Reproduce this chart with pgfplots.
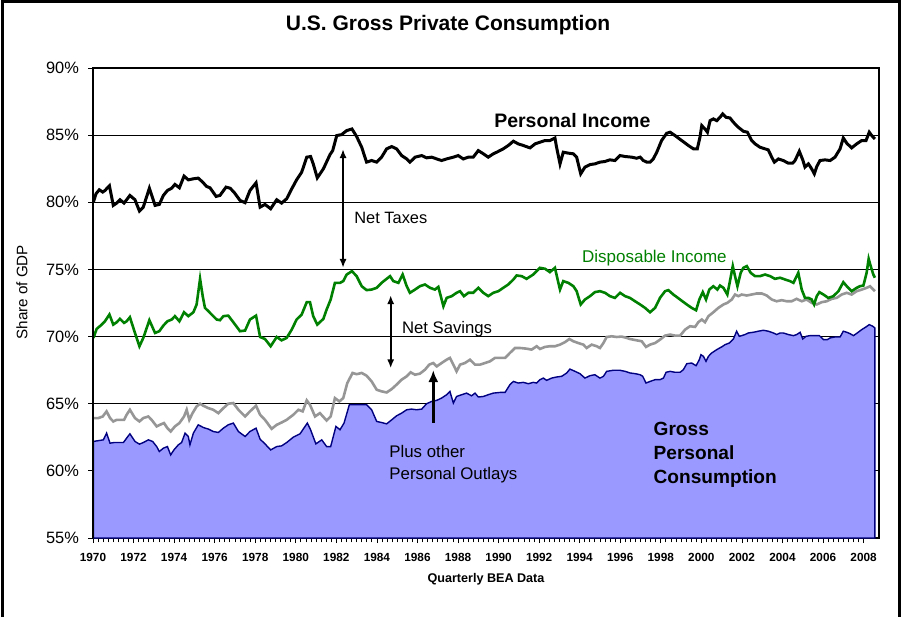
\documentclass[border=0pt]{standalone}
\usepackage{fontspec}
\setmainfont{Liberation Sans}
\usepackage{pgfplots}
\pgfplotsset{compat=1.18}
\usetikzlibrary{arrows.meta}
\definecolor{areablue}{RGB}{153,153,255}
\definecolor{navy}{RGB}{0,0,128}
\definecolor{digreen}{RGB}{0,128,0}
\definecolor{svgray}{RGB}{150,150,150}
\begin{document}
\begin{tikzpicture}[x=1pt,y=1pt]
\useasboundingbox (0,0) rectangle (450.5,308.5);
\draw[line width=1.5pt] (1,0) -- (1,307.5) -- (449.5,307.5) -- (449.5,0);
\begin{axis}[
  at={(46.5pt,39.5pt)}, anchor=south west,
  width=393pt, height=235pt, scale only axis,
  xmin=1970, xmax=2008.76, ymin=55, ymax=90,
  axis line style={black, line width=0.6pt},
  tick align=outside, tick pos=left,
  xtick={1970,1972,1974,1976,1978,1980,1982,1984,1986,1988,1990,1992,1994,1996,1998,2000,2002,2004,2006,2008},
  xticklabels={1970,1972,1974,1976,1978,1980,1982,1984,1986,1988,1990,1992,1994,1996,1998,2000,2002,2004,2006,2008},
  minor x tick num=7,
  major tick length=2.5pt, minor tick length=2.2pt,
  every tick/.style={black, line width=0.4pt},
  ytick={55,60,65,70,75,80,85,90},
  yticklabels={55\%,60\%,65\%,70\%,75\%,80\%,85\%,90\%},
  ymajorgrids=true,
  major grid style={black, line width=0.45pt},
  xticklabel style={font=\fontsize{5.9}{7}\selectfont\bfseries, yshift=-1.5pt},
  yticklabel style={font=\fontsize{8.2}{9}\selectfont, xshift=-1pt},
  title={U.S. Gross Private Consumption},
  title style={font=\fontsize{10.5}{12}\selectfont\bfseries, at={(axis description cs:0.4517,1.066)}, anchor=center},
  xlabel={Quarterly BEA Data},
  xlabel style={font=\fontsize{6.3}{7.5}\selectfont\bfseries, at={(axis description cs:0.5,-0.087)}, anchor=center},
  ylabel={Share of GDP},
  ylabel style={font=\fontsize{7.6}{9}\selectfont, at={(axis description cs:-0.0903,0.523)}, anchor=center, rotate=0},
  clip=true,
]
% Gross Personal Consumption (area)
\addplot[fill=areablue, draw=navy, line width=0.7pt] coordinates {
(1970.02,62.19)(1970.31,62.26)(1970.51,62.31)(1970.67,62.81)(1970.84,62.06)(1971.04,62.11)(1971.25,62.11)(1971.5,62.11)(1971.66,62.44)(1971.82,62.76)(1972.07,62.19)(1972.29,61.99)(1972.48,62.11)(1972.73,62.31)(1972.94,62.19)(1973.14,61.81)(1973.27,61.44)(1973.47,61.69)(1973.67,61.81)(1973.83,61.19)(1973.99,61.56)(1974.21,61.94)(1974.37,62.11)(1974.54,62.81)(1974.7,62.56)(1974.78,61.94)(1974.95,62.81)(1975.19,63.43)(1975.44,63.23)(1975.69,63.11)(1975.93,62.93)(1976.18,62.86)(1976.43,63.18)(1976.67,63.43)(1976.92,63.56)(1977.17,62.93)(1977.5,62.56)(1977.74,62.93)(1978.04,63.18)(1978.24,62.36)(1978.48,62.01)(1978.76,61.56)(1979.06,61.81)(1979.3,61.86)(1979.55,62.11)(1979.88,62.51)(1980.21,62.76)(1980.57,63.56)(1980.73,63.06)(1980.99,62.01)(1981.28,62.31)(1981.52,61.81)(1981.72,61.81)(1981.98,63.31)(1982.18,63.06)(1982.38,63.56)(1982.64,64.92)(1982.87,64.92)(1983.0,64.92)(1983.25,64.92)(1983.49,64.92)(1983.74,64.55)(1983.99,63.68)(1984.23,63.6)(1984.48,63.5)(1984.73,63.8)(1984.97,64.1)(1985.22,64.3)(1985.47,64.55)(1985.71,64.6)(1985.96,64.55)(1986.21,64.6)(1986.45,65.0)(1986.7,65.17)(1986.95,65.25)(1987.19,65.42)(1987.44,65.67)(1987.6,65.92)(1987.77,65.05)(1987.93,65.54)(1988.18,65.67)(1988.42,65.79)(1988.67,65.59)(1988.84,65.79)(1989.0,65.5)(1989.25,65.54)(1989.49,65.67)(1989.74,65.79)(1990.07,65.84)(1990.32,65.84)(1990.56,66.42)(1990.73,66.66)(1990.97,66.54)(1991.22,66.59)(1991.47,66.49)(1991.71,66.59)(1991.88,66.54)(1992.04,66.79)(1992.21,66.91)(1992.37,66.74)(1992.62,66.91)(1992.86,66.99)(1993.11,67.04)(1993.36,67.29)(1993.52,67.58)(1993.77,67.41)(1994.01,67.24)(1994.26,66.91)(1994.51,67.09)(1994.75,67.16)(1995.0,66.91)(1995.17,67.04)(1995.33,67.41)(1995.66,67.49)(1995.99,67.49)(1996.24,67.41)(1996.48,67.29)(1996.73,67.24)(1996.98,67.16)(1997.11,67.04)(1997.27,66.54)(1997.47,66.66)(1997.72,66.79)(1997.96,66.79)(1998.13,66.91)(1998.26,67.34)(1998.46,67.41)(1998.7,67.34)(1998.95,67.34)(1999.11,67.53)(1999.28,67.98)(1999.52,68.03)(1999.74,67.83)(1999.9,68.28)(1999.98,68.65)(2000.1,68.53)(2000.23,68.16)(2000.35,68.53)(2000.51,68.78)(2000.76,69.03)(2001.0,69.23)(2001.17,69.4)(2001.38,69.52)(2001.58,69.82)(2001.74,70.4)(2001.87,70.02)(2001.99,70.07)(2002.15,70.15)(2002.32,70.27)(2002.56,70.32)(2002.81,70.4)(2003.06,70.47)(2003.3,70.4)(2003.55,70.27)(2003.72,70.15)(2003.88,70.27)(2004.04,70.27)(2004.29,70.15)(2004.54,70.07)(2004.7,70.15)(2004.87,70.32)(2005.0,69.82)(2005.16,70.02)(2005.36,70.07)(2005.61,70.07)(2005.82,70.07)(2006.02,69.77)(2006.21,69.77)(2006.35,69.9)(2006.59,69.97)(2006.84,69.97)(2007.0,70.4)(2007.17,70.32)(2007.33,70.22)(2007.5,70.07)(2007.69,70.27)(2007.91,70.52)(2008.12,70.72)(2008.28,70.89)(2008.45,70.77)(2008.56,70.64)(2008.56,55)
} \closedcycle;
% Disposable income less savings (gray)
\addplot[svgray, line width=1.3pt] coordinates {
(1970.02,63.93)(1970.26,63.93)(1970.48,64.05)(1970.67,64.43)(1970.84,63.93)(1971.0,63.68)(1971.17,63.8)(1971.33,63.8)(1971.53,63.8)(1971.66,64.18)(1971.82,64.55)(1972.07,63.93)(1972.29,63.68)(1972.48,63.93)(1972.73,64.05)(1972.89,63.8)(1973.14,63.31)(1973.3,63.43)(1973.5,63.56)(1973.67,63.18)(1973.83,62.93)(1974.04,63.31)(1974.26,63.56)(1974.49,64.05)(1974.62,64.55)(1974.75,63.8)(1974.91,64.3)(1975.11,64.8)(1975.28,65.0)(1975.44,64.85)(1975.69,64.67)(1975.93,64.55)(1976.18,64.3)(1976.43,64.67)(1976.67,65.0)(1976.92,65.05)(1977.17,64.55)(1977.5,64.05)(1977.74,64.43)(1978.04,64.85)(1978.24,64.18)(1978.48,63.8)(1978.81,63.13)(1979.06,63.43)(1979.3,63.6)(1979.55,63.8)(1979.88,64.18)(1980.13,64.55)(1980.34,64.43)(1980.54,65.25)(1980.7,64.92)(1980.95,64.05)(1981.19,64.3)(1981.52,63.75)(1981.72,64.05)(1981.93,65.42)(1982.15,65.17)(1982.34,65.42)(1982.54,66.54)(1982.8,67.29)(1983.0,67.2)(1983.25,67.29)(1983.49,67.09)(1983.74,66.66)(1983.99,66.04)(1984.23,65.92)(1984.48,65.84)(1984.73,66.09)(1984.97,66.42)(1985.22,66.79)(1985.47,67.04)(1985.66,67.34)(1985.88,67.16)(1986.12,67.24)(1986.37,67.53)(1986.58,67.91)(1986.78,68.03)(1986.95,67.78)(1987.19,68.03)(1987.44,68.28)(1987.6,68.41)(1987.77,67.91)(1987.93,67.41)(1988.1,67.91)(1988.34,68.03)(1988.59,68.28)(1988.84,67.91)(1989.08,67.91)(1989.33,68.03)(1989.58,68.16)(1989.82,68.41)(1990.07,68.41)(1990.32,68.41)(1990.56,68.78)(1990.81,69.15)(1991.06,69.15)(1991.38,69.1)(1991.63,69.03)(1991.88,69.28)(1992.04,69.08)(1992.29,69.23)(1992.53,69.28)(1992.78,69.28)(1993.03,69.4)(1993.27,69.58)(1993.49,69.82)(1993.69,69.65)(1993.93,69.52)(1994.18,69.4)(1994.34,69.15)(1994.59,69.4)(1994.84,69.28)(1995.0,69.15)(1995.17,69.52)(1995.33,69.97)(1995.58,70.02)(1995.82,69.97)(1996.07,70.0)(1996.32,69.9)(1996.48,69.82)(1996.81,69.72)(1997.06,69.65)(1997.27,69.23)(1997.47,69.4)(1997.72,69.52)(1997.96,69.77)(1998.21,70.07)(1998.46,70.15)(1998.7,70.07)(1998.95,70.07)(1999.2,70.52)(1999.44,70.77)(1999.69,70.72)(1999.85,71.07)(2000.02,71.27)(2000.18,71.07)(2000.35,71.52)(2000.59,71.81)(2000.84,72.14)(2001.09,72.39)(2001.28,72.51)(2001.5,72.76)(2001.66,73.13)(2001.82,73.01)(2001.99,73.13)(2002.24,73.06)(2002.48,73.13)(2002.73,73.21)(2002.98,73.21)(2003.22,73.06)(2003.47,72.76)(2003.71,72.63)(2003.96,72.71)(2004.21,72.63)(2004.45,72.63)(2004.7,72.81)(2004.95,72.63)(2005.19,72.76)(2005.44,72.51)(2005.69,72.39)(2005.93,72.56)(2006.18,72.63)(2006.43,72.81)(2006.67,72.88)(2006.92,73.13)(2007.17,73.26)(2007.41,73.13)(2007.66,73.38)(2007.91,73.5)(2008.15,73.63)(2008.32,73.75)(2008.48,73.5)(2008.56,73.38)
};
% Disposable Income (green)
\addplot[digreen, line width=1.3pt] coordinates {
(1970.02,69.9)(1970.18,70.57)(1970.43,70.89)(1970.59,71.14)(1970.81,71.64)(1971.0,70.89)(1971.17,71.07)(1971.33,71.32)(1971.53,71.02)(1971.66,71.14)(1971.82,71.44)(1972.07,70.27)(1972.29,69.28)(1972.48,69.9)(1972.78,71.22)(1973.06,70.27)(1973.27,70.4)(1973.47,70.82)(1973.67,71.14)(1973.88,71.27)(1974.04,71.52)(1974.26,71.14)(1974.49,71.81)(1974.7,71.52)(1974.95,71.81)(1975.11,72.39)(1975.28,74.3)(1975.41,73.01)(1975.52,72.14)(1975.69,71.89)(1975.93,71.52)(1976.1,71.27)(1976.26,71.22)(1976.43,71.52)(1976.67,71.56)(1976.92,71.07)(1977.25,70.4)(1977.5,70.45)(1977.74,71.27)(1978.04,71.56)(1978.24,69.97)(1978.48,69.82)(1978.76,69.28)(1979.06,69.97)(1979.3,69.72)(1979.55,69.9)(1979.8,70.52)(1980.04,71.27)(1980.29,71.64)(1980.54,72.56)(1980.7,72.56)(1980.86,71.52)(1981.06,70.89)(1981.36,71.32)(1981.52,72.01)(1981.72,72.76)(1981.93,74.0)(1982.18,74.0)(1982.34,74.13)(1982.51,74.62)(1982.77,74.87)(1983.0,74.5)(1983.25,73.75)(1983.49,73.46)(1983.74,73.5)(1983.99,73.63)(1984.23,74.0)(1984.48,74.3)(1984.65,74.5)(1984.81,74.13)(1985.06,74.0)(1985.27,74.62)(1985.47,73.75)(1985.63,73.26)(1985.88,73.5)(1986.12,73.75)(1986.37,73.88)(1986.62,73.63)(1986.86,73.5)(1987.03,73.7)(1987.28,72.26)(1987.44,72.88)(1987.69,73.01)(1987.93,73.26)(1988.1,73.38)(1988.29,73.01)(1988.51,73.26)(1988.75,73.26)(1989.0,73.63)(1989.25,73.26)(1989.49,73.01)(1989.74,73.26)(1989.99,73.38)(1990.23,73.63)(1990.48,73.88)(1990.73,74.25)(1990.89,74.55)(1991.14,74.5)(1991.38,74.3)(1991.71,74.62)(1992.04,75.12)(1992.29,75.05)(1992.53,74.8)(1992.78,75.12)(1992.95,74.0)(1993.03,73.5)(1993.19,74.13)(1993.44,74.0)(1993.69,73.75)(1993.85,73.38)(1994.05,72.39)(1994.26,72.76)(1994.51,73.01)(1994.75,73.31)(1995.0,73.38)(1995.25,73.26)(1995.49,73.01)(1995.74,72.88)(1995.99,73.26)(1996.24,73.01)(1996.48,72.88)(1996.73,72.63)(1996.98,72.39)(1997.22,72.14)(1997.47,71.81)(1997.72,72.14)(1997.96,72.88)(1998.21,73.38)(1998.37,73.46)(1998.62,73.13)(1998.95,72.76)(1999.28,72.39)(1999.52,72.14)(1999.74,71.96)(1999.9,72.76)(2000.07,73.31)(2000.23,72.76)(2000.39,73.5)(2000.59,73.75)(2000.79,73.5)(2000.92,73.8)(2001.09,73.63)(2001.28,73.13)(2001.41,74.13)(2001.55,75.25)(2001.66,74.5)(2001.78,73.75)(2001.94,74.75)(2002.07,75.12)(2002.24,75.25)(2002.43,74.75)(2002.65,74.5)(2002.89,74.5)(2003.14,74.62)(2003.39,74.5)(2003.63,74.3)(2003.88,74.38)(2004.13,74.25)(2004.37,74.13)(2004.54,74.0)(2004.78,74.75)(2004.95,73.5)(2005.11,72.88)(2005.28,72.88)(2005.44,72.76)(2005.56,72.39)(2005.69,73.01)(2005.82,73.31)(2006.02,73.13)(2006.26,72.88)(2006.51,73.01)(2006.76,73.38)(2007.0,74.05)(2007.17,73.75)(2007.41,73.38)(2007.66,73.63)(2007.82,73.75)(2007.99,73.8)(2008.15,74.75)(2008.25,75.79)(2008.35,75.25)(2008.48,74.62)(2008.56,74.38)
};
% Personal Income (black)
\addplot[black, line width=1.5pt] coordinates {
(1970.02,80.02)(1970.15,80.64)(1970.31,80.93)(1970.48,80.76)(1970.59,80.88)(1970.81,81.23)(1971.0,79.77)(1971.17,79.94)(1971.33,80.19)(1971.53,79.94)(1971.66,80.19)(1971.82,80.51)(1972.07,80.19)(1972.29,79.35)(1972.48,79.64)(1972.78,81.05)(1973.06,79.77)(1973.27,79.84)(1973.47,80.51)(1973.67,80.88)(1973.88,81.05)(1974.04,81.33)(1974.26,81.08)(1974.49,81.95)(1974.7,81.67)(1974.95,81.75)(1975.19,81.8)(1975.41,81.5)(1975.6,81.18)(1975.77,81.08)(1976.07,80.44)(1976.26,80.51)(1976.56,81.13)(1976.76,81.05)(1976.95,80.76)(1977.25,80.14)(1977.5,79.97)(1977.74,80.88)(1978.04,81.45)(1978.24,79.64)(1978.48,79.84)(1978.76,79.52)(1979.06,80.19)(1979.3,79.94)(1979.55,80.26)(1979.8,81.0)(1980.04,81.67)(1980.29,82.24)(1980.54,83.36)(1980.73,83.41)(1980.86,82.86)(1981.06,81.82)(1981.36,82.49)(1981.69,83.56)(1981.82,83.85)(1982.02,84.97)(1982.26,85.04)(1982.51,85.34)(1982.77,85.46)(1983.0,84.9)(1983.25,84.1)(1983.49,82.99)(1983.74,83.11)(1983.99,82.99)(1984.23,83.36)(1984.48,83.98)(1984.73,84.15)(1984.97,83.98)(1985.22,83.48)(1985.47,83.23)(1985.63,82.99)(1985.88,83.36)(1986.21,83.48)(1986.45,83.31)(1986.7,83.36)(1986.95,83.23)(1987.19,83.11)(1987.44,83.23)(1987.77,83.36)(1988.01,83.48)(1988.26,83.23)(1988.51,83.36)(1988.75,83.36)(1989.0,83.85)(1989.25,83.61)(1989.49,83.36)(1989.74,83.61)(1989.91,83.73)(1990.23,83.98)(1990.48,84.23)(1990.73,84.55)(1990.97,84.35)(1991.22,84.23)(1991.55,84.05)(1991.8,84.35)(1992.04,84.47)(1992.29,84.6)(1992.53,84.6)(1992.78,84.79)(1992.86,84.1)(1993.03,82.86)(1993.19,83.73)(1993.44,83.66)(1993.69,83.61)(1993.85,83.36)(1994.05,82.12)(1994.26,82.62)(1994.51,82.81)(1994.75,82.86)(1995.0,82.99)(1995.25,83.04)(1995.49,83.16)(1995.74,83.11)(1995.99,83.48)(1996.24,83.41)(1996.57,83.36)(1996.81,83.28)(1996.98,83.36)(1997.14,83.11)(1997.31,82.99)(1997.47,82.99)(1997.63,83.23)(1997.8,83.73)(1998.04,84.6)(1998.29,85.14)(1998.46,85.22)(1998.7,84.97)(1999.03,84.6)(1999.36,84.23)(1999.61,83.98)(1999.8,83.98)(1999.93,84.84)(2000.02,85.71)(2000.18,85.46)(2000.3,85.22)(2000.43,86.08)(2000.59,86.21)(2000.76,86.08)(2000.92,86.33)(2001.05,86.58)(2001.22,86.33)(2001.41,86.28)(2001.58,85.96)(2001.82,85.59)(2002.07,85.29)(2002.27,85.22)(2002.48,84.6)(2002.65,84.35)(2002.89,84.1)(2003.14,83.98)(2003.3,83.9)(2003.47,83.36)(2003.6,82.99)(2003.8,83.23)(2004.04,83.11)(2004.29,82.91)(2004.5,82.91)(2004.62,83.11)(2004.83,83.8)(2005.0,83.16)(2005.11,82.62)(2005.28,82.86)(2005.44,82.49)(2005.57,82.12)(2005.69,82.66)(2005.85,83.11)(2006.1,83.16)(2006.35,83.11)(2006.59,83.36)(2006.84,83.98)(2007.0,84.79)(2007.17,84.4)(2007.41,84.05)(2007.66,84.35)(2007.91,84.6)(2008.12,84.6)(2008.28,85.22)(2008.4,84.97)(2008.56,84.72)
};
% left axis thicker
\draw[black, line width=1pt] (rel axis cs:0,0) -- (rel axis cs:0,1);
% annotations
\draw[line width=0.9pt, {Latex[length=4.5pt,width=3.6pt]}-{Latex[length=4.5pt,width=3.6pt]}] (axis cs:1982.33,83.96) -- (axis cs:1982.33,75.12);
\draw[line width=0.9pt, {Latex[length=4.5pt,width=3.6pt]}-{Latex[length=4.5pt,width=3.6pt]}] (axis cs:1984.68,73.08) -- (axis cs:1984.68,67.64);
\draw[line width=1.4pt, -{Latex[length=6pt,width=5pt]}] (axis cs:1986.78,63.6) -- (axis cs:1986.78,67.51);
\node[anchor=base west, inner sep=0, font=\fontsize{9.75}{11}\selectfont\bfseries] at (axis cs:1989.77,85.59) {Personal Income};
\node[anchor=base west, inner sep=0, font=\fontsize{8.2}{10}\selectfont] at (axis cs:1982.87,78.41) {Net Taxes};
\node[anchor=base west, inner sep=0, text=digreen, font=\fontsize{8.5}{10}\selectfont] at (axis cs:1994.10,75.51) {Disposable Income};
\node[anchor=base west, inner sep=0, font=\fontsize{8.35}{10}\selectfont] at (axis cs:1985.22,70.24) {Net Savings};
\node[anchor=base west, inner sep=0, font=\fontsize{8.4}{10}\selectfont] at (axis cs:1984.6,60.96) {Plus other};
\node[anchor=base west, inner sep=0, font=\fontsize{8.4}{10}\selectfont] at (axis cs:1984.6,59.34) {Personal Outlays};
\node[anchor=base west, inner sep=0, font=\fontsize{9.55}{11}\selectfont\bfseries] at (axis cs:1997.63,62.63) {Gross};
\node[anchor=base west, inner sep=0, font=\fontsize{9.55}{11}\selectfont\bfseries] at (axis cs:1997.63,60.82) {Personal};
\node[anchor=base west, inner sep=0, font=\fontsize{9.55}{11}\selectfont\bfseries] at (axis cs:1997.63,59.09) {Consumption};
\end{axis}
\end{tikzpicture}
\end{document}
